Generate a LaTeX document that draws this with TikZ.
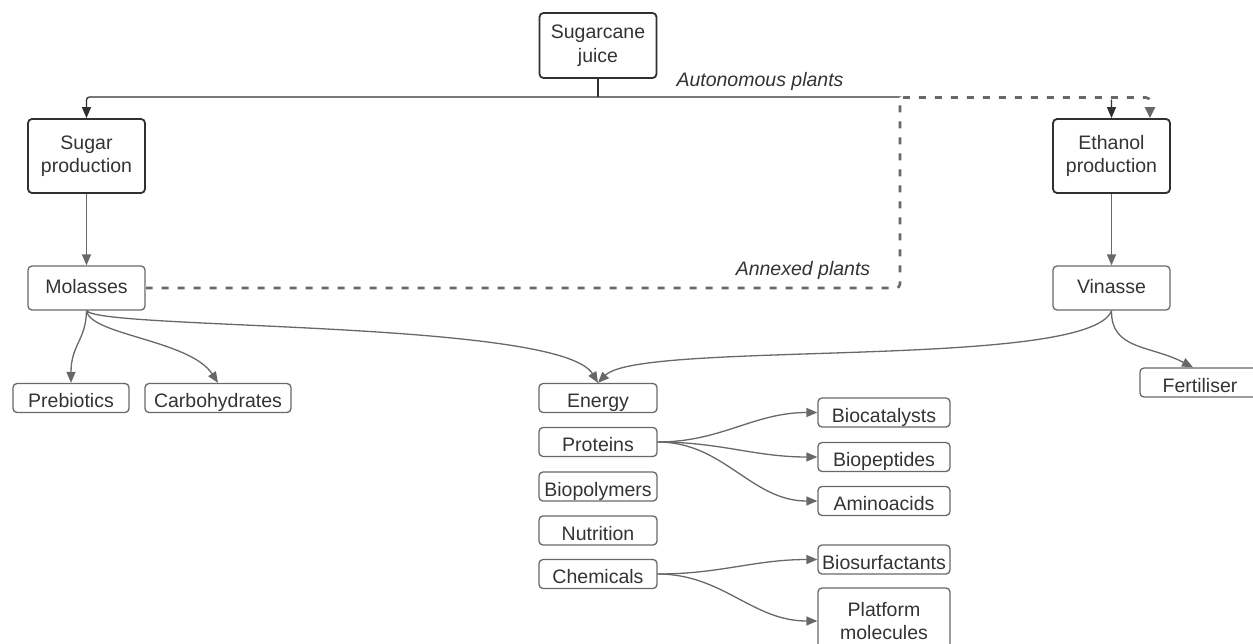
\documentclass[tikz,border=0pt]{standalone}
\usepackage{fontspec}
\setmainfont{Liberation Sans}
\usetikzlibrary{arrows.meta}
\definecolor{dk}{HTML}{303030}
\definecolor{gr}{HTML}{686868}
\definecolor{tx}{HTML}{333333}
\begin{document}
\begin{tikzpicture}[x=1pt,y=-1pt,
  every node/.style={font=\fontsize{19.5}{23.5}\selectfont, text=tx},
  mainbox/.style={draw=dk, line width=1.8pt, rounded corners=4pt, minimum width=117pt, align=center, inner sep=0pt},
  subbox/.style={draw=gr, line width=1.3pt, rounded corners=4pt, minimum height=29pt, inner sep=0pt, text height=19pt, text depth=0pt},
  midbox/.style={subbox, text height=14pt, text depth=4pt, minimum height=44pt, minimum width=117pt},
  twobox/.style={draw=gr, line width=1.3pt, rounded corners=4pt, inner sep=0pt, align=center},
  lbl/.style={font=\fontsize{19.5}{23.5}\selectfont\itshape},
  tip/.style={-{Triangle[length=11pt,width=9pt]}},
  topconn/.style={draw=dk, line width=1.3pt, rounded corners=3pt},
  conn/.style={draw=gr, line width=1.3pt, tip},
  dashconn/.style={draw=gr, line width=2.6pt, dash pattern=on 7pt off 9pt, rounded corners=4pt,
    preaction={draw=white, line width=4pt, solid}, -{Triangle[length=11pt,width=10pt]}}
]
\useasboundingbox (0,0) rectangle (1253,643);

% main boxes
\node[mainbox, minimum height=65pt] (sj) at (598,45.5) {Sugarcane\\juice};
\node[mainbox, minimum height=74pt] (sp) at (86.5,156) {Sugar\\production};
\node[mainbox, minimum height=74pt] (ep) at (1111.5,156) {Ethanol\\production};

% secondary boxes
\node[midbox] (mol) at (86.5,288) {Molasses};
\node[midbox] (vin) at (1111.5,288) {Vinasse};
\node[subbox, minimum width=116pt] (pre) at (71,398) {Prebiotics};
\node[subbox, minimum width=146pt] (car) at (218,398) {Carbohydrates};
\node[subbox, minimum width=120pt] (fer) at (1200,382.5) {Fertiliser};

\node[subbox, minimum width=118pt] (ene) at (598,398) {Energy};
\node[subbox, minimum width=118pt] (pro) at (598,442) {Proteins};
\node[subbox, minimum width=118pt] (bpo) at (598,486.5) {Biopolymers};
\node[subbox, minimum width=118pt] (nut) at (598,530.5) {Nutrition};
\node[subbox, minimum width=118pt] (che) at (598,574) {Chemicals};

\node[subbox, minimum width=132pt] (bca) at (884,412.5) {Biocatalysts};
\node[subbox, minimum width=132pt] (bpe) at (884,457) {Biopeptides};
\node[subbox, minimum width=132pt] (ami) at (884,501) {Aminoacids};
\node[subbox, minimum width=132pt] (bsu) at (884,559.5) {Biosurfactants};
\node[twobox, minimum width=132pt, minimum height=66pt] (pla) at (884,621) {Platform\\molecules};

% labels
\node[lbl] (auto) at (760,81) {Autonomous plants};
\node[lbl] (anne) at (803,270) {Annexed plants};

% top distribution
\coordinate (j) at (598,97);
\draw[topconn] (sj.south) -- (j);
\draw[topconn, {Triangle[length=11pt,width=9pt]}-{Triangle[length=11pt,width=9pt]}] (sp.north) |- (j) -| (ep.north);

% annexed dashed route
\coordinate (d1) at (900,288);
\coordinate (d2) at (900,97.5);
\coordinate (d3) at (1150,97.5);
\draw[dashconn] (mol.east) -- (d1) -- (d2) -- (d3) -- (d3 |- ep.north);

% vertical
\draw[conn] (sp.south) -- (mol.north);
\draw[conn] (ep.south) -- (vin.north);

% molasses products
\draw[conn] (mol.south) .. controls (86,340) and (71,345) .. (pre.north);
\draw[conn] (mol.south) .. controls (90,335) and (190,340) .. (car.north);
\draw[conn] (mol.south) .. controls (100,330) and (560,320) .. (ene.north);

% vinasse products
\draw[conn] (vin.south) .. controls (1090,370) and (640,340) .. (ene.north);
\draw[conn] (vin.south) .. controls (1111,350) and (1150,345) .. ([xshift=-7pt]fer.north);

% proteins
\draw[conn] (pro.east) to[out=0,in=180] (bca.west);
\draw[conn] (pro.east) to[out=0,in=180] (bpe.west);
\draw[conn] (pro.east) to[out=0,in=180] (ami.west);

% chemicals
\draw[conn] (che.east) to[out=0,in=180] (bsu.west);
\draw[conn] (che.east) to[out=0,in=180] (pla.west);
\end{tikzpicture}
\end{document}
